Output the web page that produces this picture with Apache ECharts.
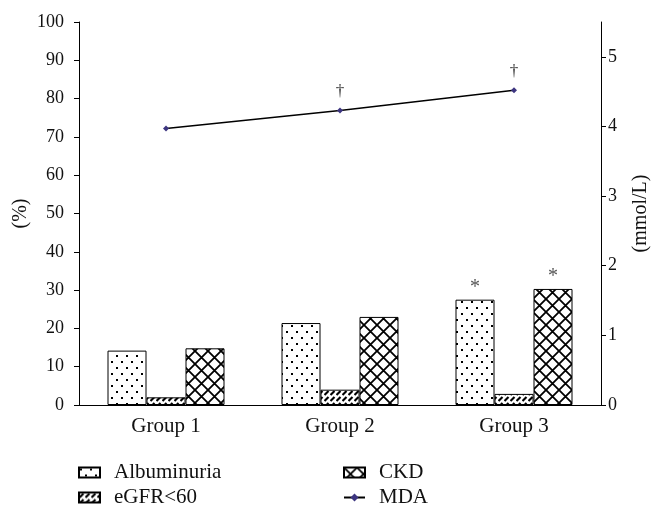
<!DOCTYPE html>
<html>
<head>
<meta charset="utf-8">
<script src="https://cdn.jsdelivr.net/npm/echarts@6/dist/echarts.min.js"></script>
<style>
  html, body { margin: 0; padding: 0; background: #fff; }
  #main { width: 655px; height: 505px; }
</style>
</head>
<body>
<div id="main"></div>
<script>
// data
const groups = ['Group 1', 'Group 2', 'Group 3']
const albuminuria = [14.2, 21.4, 27.5]
const egfr60 = [2.0, 4.0, 2.9]
const ckd = [14.8, 23.0, 30.3]
const mda = [3.97, 4.23, 4.52]
const barMarks = ['', '', '*']
const mdaMarks = ['', '†', '†']
const mmolTicks = [0, 1, 2, 3, 4, 5]

const FONT = 'Liberation Serif'

// small canvas tiles used as hatch patterns
function tile (w, h, draw) {
  const c = document.createElement('canvas')
  c.width = w
  c.height = h
  const ctx = c.getContext('2d')
  ctx.fillStyle = '#fff'
  ctx.fillRect(0, 0, w, h)
  ctx.fillStyle = '#000'
  ctx.strokeStyle = '#000'
  draw(ctx)
  return { image: c, repeat: 'repeat' }
}

const dots = tile(10, 12, ctx => {
  ctx.fillRect(1, 1, 2, 2)
  ctx.fillRect(6, 7, 2, 2)
})
const dashes = tile(6, 6, ctx => {
  ctx.lineWidth = 2.2
  ctx.beginPath()
  ctx.moveTo(0.5, 5)
  ctx.lineTo(4.5, 1)
  ctx.stroke()
})
const lattice = tile(13, 13, ctx => {
  ctx.lineWidth = 1.8
  ctx.beginPath()
  ctx.moveTo(0, 0); ctx.lineTo(13, 13)
  ctx.moveTo(13, 0); ctx.lineTo(0, 13)
  ctx.stroke()
})

function barSeries (name, data, fill, marks) {
  return {
    name: name,
    type: 'bar',
    barWidth: 39,
    barGap: '0%',
    itemStyle: { color: fill, borderColor: '#000', borderWidth: 1 },
    label: {
      show: !!marks,
      position: 'top',
      distance: 2,
      color: '#555',
      fontFamily: FONT,
      fontSize: 20,
      formatter: p => marks ? marks[p.dataIndex] : ''
    },
    data: data
  }
}

function legendCol (items, left) {
  return {
    data: items,
    orient: 'vertical',
    left: left,
    top: 462,
    height: 60,
    padding: 0,
    itemWidth: 21,
    itemHeight: 10,
    itemGap: 4,
    textStyle: { fontFamily: FONT, fontSize: 21, color: '#111', padding: [0, 0, 0, 9] }
  }
}

const option = {
  backgroundColor: '#fff',
  animation: false,
  textStyle: { fontFamily: FONT, color: '#111' },
  grid: { left: 79, right: 54, top: 22, bottom: 100, outerBoundsMode: 'none', containLabel: false },
  legend: [
    legendCol([{ name: 'Albuminuria', icon: 'rect' }, { name: 'eGFR<60', icon: 'rect' }], 78),
    legendCol([{ name: 'CKD', icon: 'rect' }, { name: 'MDA' }], 343)
  ],
  xAxis: {
    type: 'category',
    data: groups,
    axisLine: { lineStyle: { color: '#000', width: 1 } },
    axisTick: { length: 5, lineStyle: { color: '#000' } },
    axisLabel: { color: '#111', fontFamily: FONT, fontSize: 21, margin: 11 }
  },
  yAxis: [
    {
      type: 'value',
      min: 0,
      max: 100,
      interval: 10,
      name: '(%)',
      nameLocation: 'middle',
      nameGap: 48,
      nameRotate: 90,
      nameMoveOverlap: false,
      nameTextStyle: { fontFamily: FONT, fontSize: 20, color: '#111' },
      axisLine: { show: true, lineStyle: { color: '#000', width: 1 } },
      axisTick: { show: true, length: 5, lineStyle: { color: '#000' } },
      axisLabel: { color: '#111', fontFamily: FONT, fontSize: 18, margin: 15 },
      splitLine: { show: false }
    },
    {
      type: 'value',
      position: 'right',
      min: 0,
      max: 5.5,
      name: '(mmol/L)',
      nameLocation: 'middle',
      nameGap: 30,
      nameRotate: 90,
      nameTextStyle: { fontFamily: FONT, fontSize: 20, color: '#111' },
      axisLine: { show: true, lineStyle: { color: '#000', width: 1 } },
      axisTick: { show: true, length: 5, customValues: mmolTicks, lineStyle: { color: '#000' } },
      axisLabel: { color: '#111', fontFamily: FONT, fontSize: 18, margin: 7, customValues: mmolTicks },
      splitLine: { show: false }
    }
  ],
  series: [
    barSeries('Albuminuria', albuminuria, dots, barMarks),
    barSeries('eGFR<60', egfr60, dashes, null),
    barSeries('CKD', ckd, lattice, barMarks),
    {
      name: 'MDA',
      type: 'line',
      yAxisIndex: 1,
      data: mda,
      symbol: 'diamond',
      symbolSize: 6,
      itemStyle: { color: '#3d3580' },
      lineStyle: { color: '#000', width: 1.4 },
      label: {
        show: true,
        position: 'top',
        distance: 7,
        color: '#333',
        fontFamily: FONT,
        fontSize: 17,
        formatter: p => mdaMarks[p.dataIndex]
      },
      z: 5
    }
  ]
}

const myChart = echarts.init(document.getElementById('main'))
myChart.setOption(option)
</script>
</body>
</html>
